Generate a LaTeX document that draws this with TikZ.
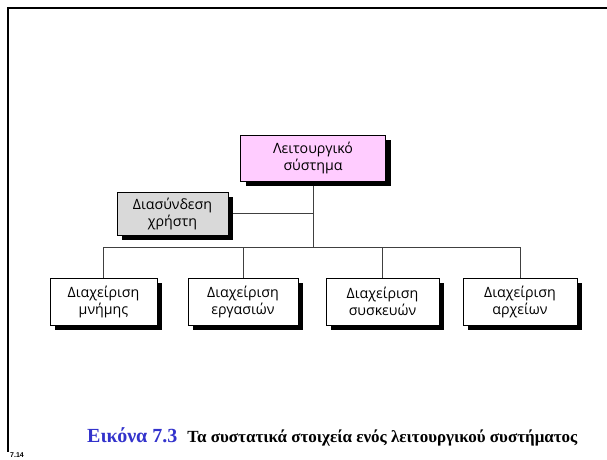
\documentclass[tikz,border=0pt]{standalone}
\usepackage{fontspec}
\setmainfont{Liberation Serif}
\newfontfamily\boxfont{Open Sans}
\newfontfamily\numfont{Liberation Sans}
\usetikzlibrary{shadows,backgrounds}
\definecolor{ospink}{HTML}{FFCCFF}
\definecolor{uigray}{HTML}{D9D9D9}
\definecolor{capblue}{HTML}{3333CC}
\begin{document}
\begin{tikzpicture}[x=1pt,y=-1pt,
  unit/.style={draw=black, line width=0.8pt, fill=white, align=center,
    inner sep=0pt, font=\boxfont\fontsize{14.2}{17}\selectfont,
    drop shadow={shadow xshift=5pt, shadow yshift=-5pt, fill=black, opacity=1}},
  link/.style={draw=black!75, line width=0.8pt}]
  \useasboundingbox (0,0) rectangle (607,459);

  % slide frame
  \draw[line width=2.5pt] (607,8) -- (8,8) -- (8,452);

  % components
  \node[unit, fill=ospink, minimum width=145pt, minimum height=46pt] (os) at (313,158) {Λειτουργικό\\σύστημα};
  \node[unit, fill=uigray, minimum width=111pt, minimum height=43pt] (ui) at (172.5,213.5) {Διασύνδεση\\χρήστη};
  \node[unit, minimum width=107pt, minimum height=47pt] (mem) at (103.5,301.5) {Διαχείριση\\μνήμης};
  \node[unit, minimum width=110pt, minimum height=47pt] (task) at (243,301.5) {Διαχείριση\\εργασιών};
  \node[unit, minimum width=113pt, minimum height=47pt] (dev) at (382.5,301.5) {Διαχείριση\\συσκευών};
  \node[unit, minimum width=114pt, minimum height=47pt] (file) at (520,301.5) {Διαχείριση\\αρχείων};
  \coordinate (bus) at (313,247);

  % white page, then the tree connectors behind the boxes
  \begin{scope}[on background layer]
    \fill[white] (0,0) rectangle (607,459);
    \draw[link] (os.south) -- (bus);
    \draw[link] (ui.east) -- (ui.east -| bus);
    \draw[link] (mem.north) -- (mem.north |- bus) -- (file.north |- bus) -- (file.north);
    \draw[link] (task.north) -- (task.north |- bus);
    \draw[link] (dev.north) -- (dev.north |- bus);
  \end{scope}

  % caption
  \node[anchor=base west, inner sep=0pt] (cap) at (87,442)
    {{\color{capblue}\bfseries\fontsize{20}{20}\selectfont Εικόνα 7.3}\hspace{10pt}{\bfseries\fontsize{17}{18}\selectfont Τα συστατικά στοιχεία ενός λειτουργικού συστήματος}};
  \node[anchor=base west, inner sep=0pt, font=\numfont\bfseries\fontsize{7}{7}\selectfont] (pg) at (10,457) {7.14};
\end{tikzpicture}
\end{document}
